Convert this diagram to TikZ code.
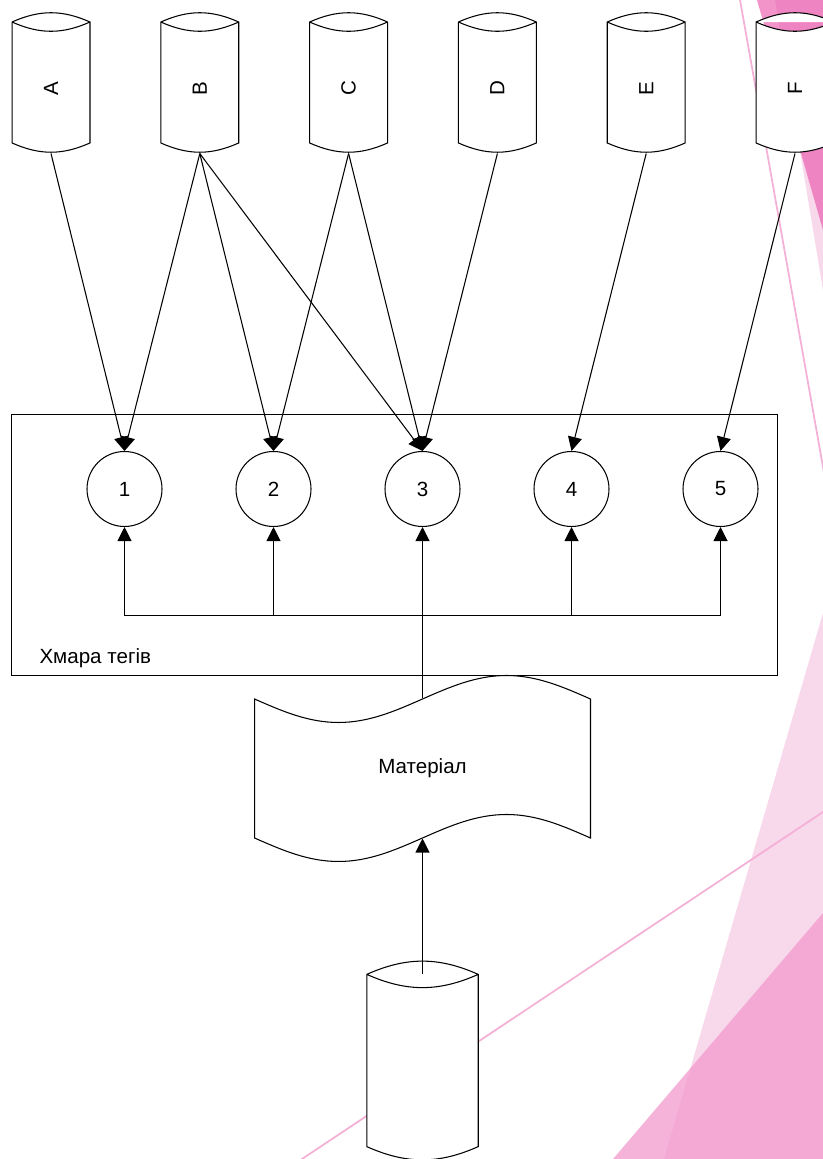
\documentclass[tikz,border=0pt]{standalone}
\usepackage{fontspec}
\setmainfont{Liberation Sans}
\usetikzlibrary{arrows.meta,calc}
\definecolor{facetpale}{HTML}{F8D8EB}
\definecolor{facetmid}{HTML}{F299CD}
\definecolor{facetdeep}{HTML}{E94DA7}
\definecolor{facetline}{HTML}{F4B0D6}
\begin{document}
\begin{tikzpicture}[line width=0.6pt,
  every node/.style={font=\fontsize{11.7}{14}\selectfont,inner sep=0pt},
  arr/.style={-{Triangle[length=0.28cm,width=0.28cm]}},
  tag/.style={draw,circle,minimum size=1.5cm},
  dbase/.style={minimum width=#1,minimum height=1.785*#1,
    path picture={
      \filldraw[fill=white] let \p1=(path picture bounding box.south west),
        \p2=(path picture bounding box.north east),\n1={0.127*(\x2-\x1)} in
        (\x1+0.3pt,\y2-\n1) to[bend left=24] (\x2-0.3pt,\y2-\n1) -- (\x2-0.3pt,\y1+\n1)
        to[bend left=24] (\x1+0.3pt,\y1+\n1) -- cycle
        (\x1+0.3pt,\y2-\n1) to[bend right=24] (\x2-0.3pt,\y2-\n1);}},
  paper/.style={minimum width=6.74cm,minimum height=3.74cm,
    path picture={
      \filldraw[fill=white] let \p1=(path picture bounding box.south west),
        \p2=(path picture bounding box.north east),\n1={(\x2-\x1-0.6pt)/4} in
        (\x1+0.3pt,\y2-0.48cm) sin ++(\n1,-0.47cm) cos ++(\n1,0.47cm)
        sin ++(\n1,0.47cm) cos ++(\n1,-0.47cm) -- (\x2-0.3pt,\y1+0.48cm)
        sin ++(-\n1,0.47cm) cos ++(-\n1,-0.47cm)
        sin ++(-\n1,-0.47cm) cos ++(-\n1,0.47cm) -- cycle;}}]
\useasboundingbox (0,0) rectangle (16.46,23.18);
\fill[facetpale] (15.5,23.18) -- (16.46,23.18) -- (16.46,17.38) -- cycle;
\fill[facetdeep,fill opacity=0.6] (15.14,23.18) -- (16.46,23.18) -- (16.46,18.58) -- cycle;
\fill[facetpale] (16.46,10.92) -- (16.46,0) -- (13.28,0) -- cycle;
\fill[facetmid,fill opacity=0.74] (16.46,4.92) -- (16.46,0) -- (12.26,0) -- cycle;
\draw[facetline,line width=1pt] (14.767,23.367) -- (16.493,13.653);
\draw[facetline,line width=1pt] (16.67,7.08) -- (5.83,-0.14);
\node[draw,minimum width=15.31cm,minimum height=5.23cm] (cloud) at (7.89,12.28) {};
\node[anchor=west] (cloud-name) at (0.78,10.02) {Хмара тегів};
\foreach \i in {1,...,5}
  \node[tag] (c\i) at ({2.49+2.98*(\i-1)},13.4) {\i};
\foreach \s [count=\i from 0] in {A,...,F} {
  \node[dbase=1.58cm] (\s) at ({1.02+2.976*\i},21.53) {};
  \node[rotate=90] (\s-name) at ([yshift=-0.12cm]\s.center) {\s};
}
\node[paper] (mat) at (8.45,7.81) {Матеріал};
\node[dbase=2.25cm] (src) at (8.45,1.97) {};
\coordinate (mat-top) at ([yshift=-0.48cm]mat.north);
\coordinate (mat-bot) at ([yshift=0.48cm]mat.south);
\coordinate (src-top) at ([yshift=-0.29cm]src.north);
\coordinate (bus) at ([yshift=1.66cm]mat-top);
\foreach \s/\t in {A/1,B/1,B/2,B/3,C/2,C/3,D/3,E/4,F/5}
  \draw[arr] (\s.south) -- (c\t.north);
\draw[arr] (mat-top) -- (c3.south);
\draw[arr] (bus) -| (c1.south);
\draw[arr] (bus) -| (c5.south);
\foreach \k in {2,4}
  \draw[arr] (bus -| c\k) -- (c\k.south);
\draw[arr] (src-top) -- (mat-bot);
\end{tikzpicture}
\end{document}
